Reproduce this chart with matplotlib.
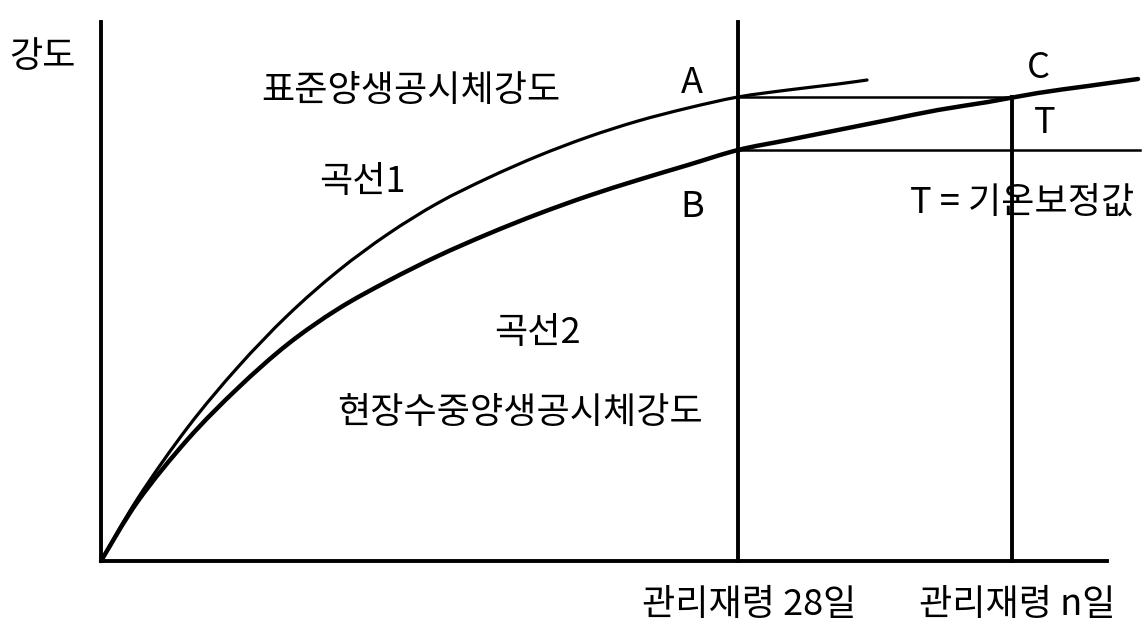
import numpy as np
import matplotlib.pyplot as plt
from matplotlib.path import Path
from matplotlib.patches import PathPatch

plt.rcParams['font.family'] = ['Noto Sans CJK KR', 'DejaVu Sans']

# 곡선1: 표준양생 공시체 강도 (재령, 강도) - 도식 단위
curve1_age = [0, 37, 87, 137, 187, 237, 287, 337, 387, 437, 487, 537, 587, 637, 687, 737, 766]
curve1_str = [0, 63, 134, 194, 246, 290, 327, 358, 383, 405, 424, 440, 453, 464, 471, 477, 481]

# 곡선2: 현장수중양생 공시체 강도
curve2_age = [0, 37, 87, 137, 187, 237, 287, 337, 387, 437, 487, 537, 587, 637,
              687, 737, 787, 837, 887, 937, 987, 1037]
curve2_str = [0, 60, 122, 173, 217, 252, 280, 305, 327, 347, 365, 381, 396, 411,
              421, 431, 441, 451, 459, 468, 475, 482]

age_28 = 637      # 관리재령 28일
age_n = 911       # 관리재령 n일
str_A = 464       # 곡선1 @ 28일 (= 곡선2 @ n일, 점 C)
str_B = 411       # 곡선2 @ 28일
age_end = 1039
x_max, y_max = 1006, 539


def smooth_path(xs, ys):
    # 점들을 지나는 부드러운 곡선 (Catmull-Rom -> 3차 베지어)
    p = np.column_stack([xs, ys]).astype(float)
    q = np.vstack([p[0], p, p[-1]])
    verts = [p[0]]
    codes = [Path.MOVETO]
    for i in range(1, len(q) - 2):
        c1 = q[i] + (q[i + 1] - q[i - 1]) / 6
        c2 = q[i + 1] - (q[i + 2] - q[i]) / 6
        verts += [c1, c2, q[i + 1]]
        codes += [Path.CURVE4] * 3
    return Path(verts, codes)


fig = plt.figure(figsize=(11.45, 6.4), dpi=100)
ax = fig.add_axes([101 / 1145, 79 / 640, 1006 / 1145, 539 / 640])
ax.set_xlim(0, x_max)
ax.set_ylim(0, y_max)
for s in ['top', 'right']:
    ax.spines[s].set_visible(False)
for s in ['left', 'bottom']:
    ax.spines[s].set_linewidth(2.8)
ax.set_xticks([])
ax.set_yticks([])

ax.add_patch(PathPatch(smooth_path(curve1_age, curve1_str), fill=False, ec='black',
                       lw=2.3, capstyle='round', joinstyle='round', clip_on=False))
ax.add_patch(PathPatch(smooth_path(curve2_age, curve2_str), fill=False, ec='black',
                       lw=3.2, capstyle='round', joinstyle='round', clip_on=False))

# 보조선
ax.plot([age_28, age_28], [0, y_max], color='black', lw=2.8, clip_on=False)
ax.plot([age_n, age_n], [0, str_A], color='black', lw=2.8, clip_on=False)
ax.plot([age_28, age_n], [str_A, str_A], color='black', lw=1.8, clip_on=False)
ax.plot([age_28, age_end], [str_B, str_B], color='black', lw=1.8, clip_on=False)

kw = dict(ha='center', va='center', color='black', clip_on=False, fontsize=26)
ax.text(-59, 504, '강도', **kw)
ax.text(310, 470, '표준양생공시체강도', **kw)
ax.text(261, 379, '곡선1', **kw)
ax.text(436, 228, '곡선2', **kw)
ax.text(419, 148, '현장수중양생공시체강도', **kw)
ax.text(591, 478, 'A', **kw)
ax.text(591, 354, 'B', **kw)
ax.text(937, 493, 'C', **kw)
ax.text(944, 438, 'T', **kw)
ax.text(921, 358, 'T = 기온보정값', **kw)
ax.text(648, -44, '관리재령 28일', **kw)
ax.text(916, -44, '관리재령 n일', **kw)

fig.savefig('out.png', dpi=100)
